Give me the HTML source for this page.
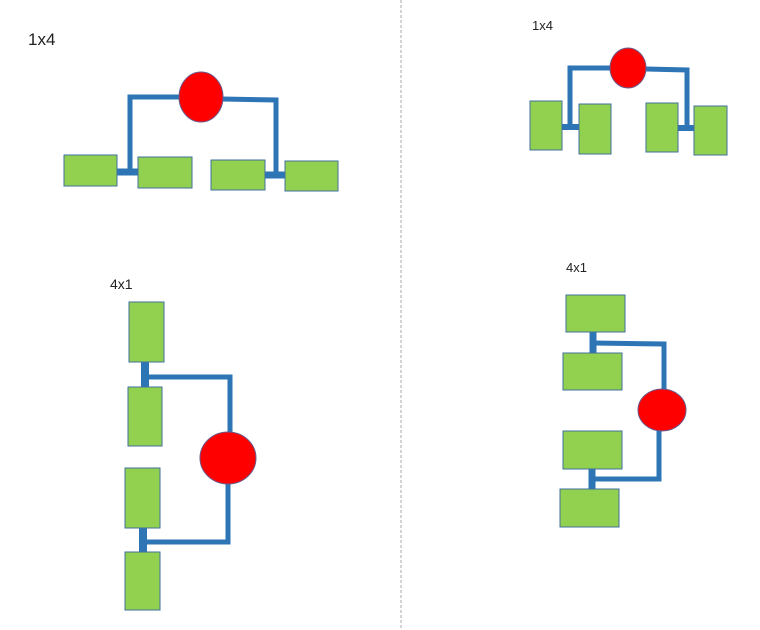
<!DOCTYPE html>
<html><head><meta charset="utf-8"><style>html,body{margin:0;padding:0;background:#fff}svg{display:block}</style></head>
<body>
<svg width="760" height="630" viewBox="0 0 760 630" xmlns="http://www.w3.org/2000/svg">
<line x1="401" y1="0" x2="401" y2="630" stroke="#aaa" stroke-width="1" stroke-dasharray="3,2"/>
<g font-family="Liberation Sans, sans-serif" fill="#222">
<text x="28" y="45" font-size="17">1x4</text>
<text x="532" y="30" font-size="13">1x4</text>
<text x="110" y="289" font-size="14">4x1</text>
<text x="566" y="272" font-size="13">4x1</text>
</g>
<g fill="none" stroke="#2e75b6" stroke-width="5">
<!-- top-left -->
<polyline points="130,172 130,97 180,97"/>
<polyline points="222,99 276,100 276,175"/>
<line x1="117" y1="172" x2="138" y2="172" stroke-width="7"/>
<line x1="265" y1="175" x2="285" y2="175" stroke-width="7"/>
<!-- top-right -->
<polyline points="570,126 570,68 610,68"/>
<polyline points="646,69 687,70 687,127"/>
<line x1="562" y1="127" x2="579" y2="127" stroke-width="6"/>
<line x1="678" y1="128" x2="694" y2="128" stroke-width="6"/>
<!-- bottom-left -->
<line x1="145" y1="362" x2="145" y2="387" stroke-width="8"/>
<polyline points="145,377 230,377 230,433"/>
<polyline points="228,484 228,542 143,542"/>
<line x1="143" y1="528" x2="143" y2="552" stroke-width="8"/>
<!-- bottom-right -->
<line x1="593" y1="332" x2="593" y2="353" stroke-width="7"/>
<polyline points="593,343 664,344 664,390"/>
<polyline points="659,431 659,479 592,479"/>
<line x1="592" y1="469" x2="592" y2="489" stroke-width="7"/>
</g>
<g fill="#92d050" stroke="#41719c" stroke-width="1">
<rect x="64" y="155" width="53" height="31"/>
<rect x="138" y="157" width="54" height="31"/>
<rect x="211" y="160" width="54" height="30"/>
<rect x="285" y="161" width="53" height="30"/>
<rect x="530" y="101" width="32" height="49"/>
<rect x="579" y="104" width="32" height="50"/>
<rect x="646" y="103" width="32" height="49"/>
<rect x="694" y="106" width="33" height="49"/>
<rect x="129" y="302" width="35" height="60"/>
<rect x="128" y="387" width="34" height="59"/>
<rect x="125" y="468" width="35" height="60"/>
<rect x="125" y="552" width="35" height="58"/>
<rect x="566" y="295" width="59" height="37"/>
<rect x="563" y="353" width="59" height="37"/>
<rect x="563" y="431" width="59" height="38"/>
<rect x="560" y="489" width="59" height="38"/>
</g>
<g fill="#ff0000" stroke="#6a5a8a" stroke-width="1">
<ellipse cx="201" cy="97" rx="22" ry="25"/>
<ellipse cx="628" cy="68" rx="18" ry="20"/>
<ellipse cx="228" cy="458" rx="28" ry="26"/>
<ellipse cx="662" cy="410" rx="24" ry="21"/>
</g>
</svg>
</body></html>
